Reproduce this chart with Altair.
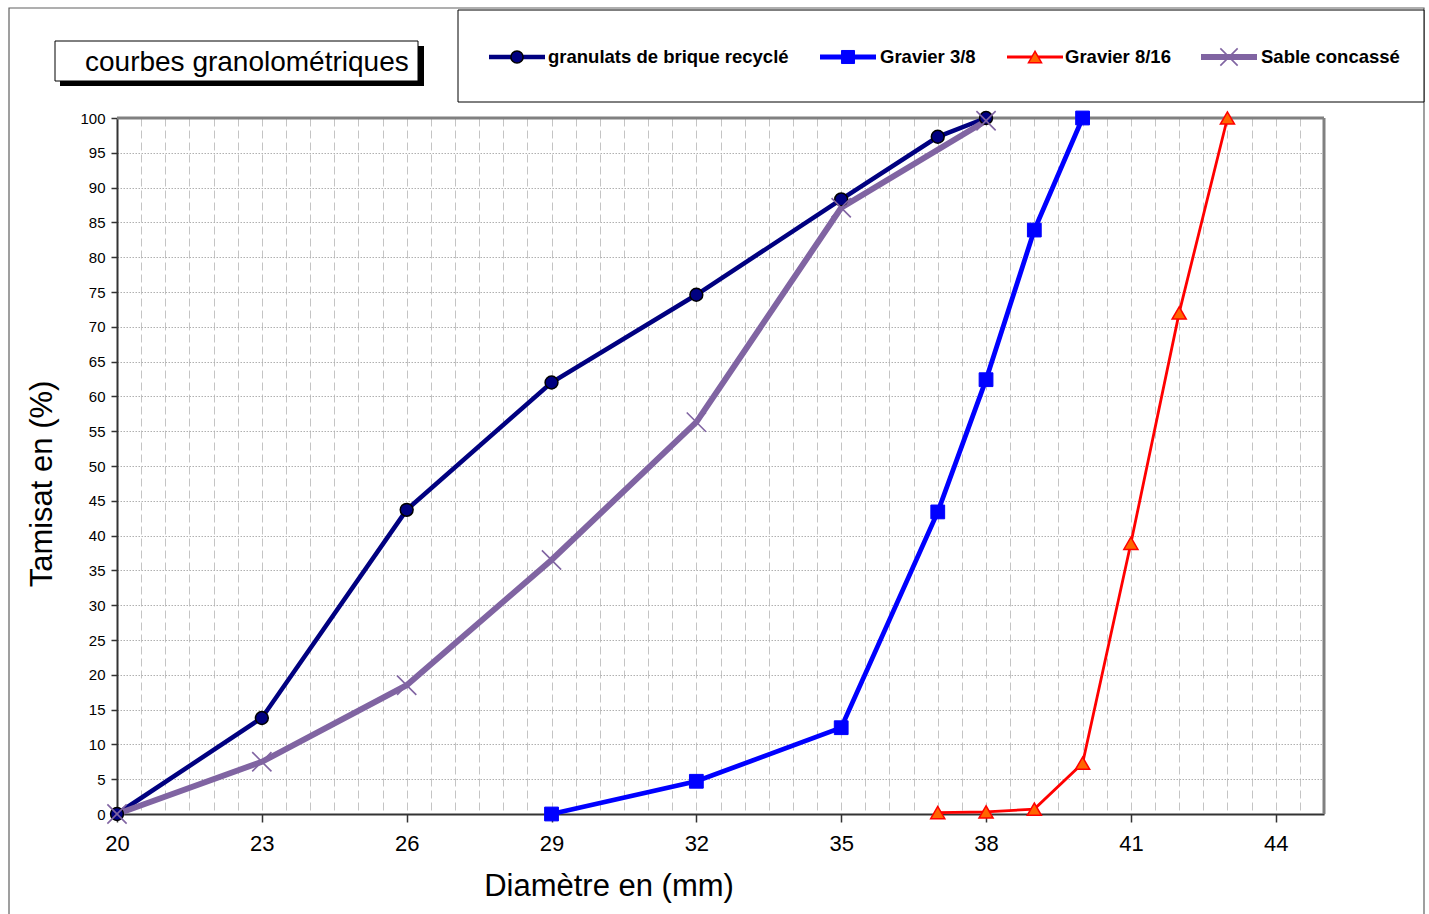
import altair as alt
import pandas as pd

FONT = "Liberation Sans"

# ---------------- data ----------------
series_names = ["granulats de brique recyclé", "Gravier 3/8", "Gravier 8/16", "Sable concassé"]

granulats_x = [20, 23, 26, 29, 32, 35, 37, 38]
granulats_y = [0, 13.8, 43.7, 62.0, 74.6, 88.3, 97.3, 100]

gravier38_x = [29, 32, 35, 37, 38, 39, 40]
gravier38_y = [0, 4.7, 12.4, 43.4, 62.4, 83.9, 100]

gravier816_x = [37, 38, 39, 40, 41, 42, 43]
gravier816_y = [0.2, 0.3, 0.7, 7.3, 38.9, 72.0, 100]

sable_x = [20, 23, 26, 29, 32, 35, 38]
sable_y = [0, 7.5, 18.5, 36.5, 56.3, 87.1, 99.6]

x_label_values = [20, 23, 26, 29, 32, 35, 38, 41, 44]
y_tick_values = list(range(0, 101, 5))

chart_title = "courbes granolométriques"
x_title = "Diamètre en (mm)"
y_title = "Tamisat en (%)"

series_x = [granulats_x, gravier38_x, gravier816_x, sable_x]
series_y = [granulats_y, gravier38_y, gravier816_y, sable_y]

frames = []
for name, xs, ys in zip(series_names, series_x, series_y):
    frames.append(pd.DataFrame({"serie": name, "d": xs, "t": ys}))
df = pd.concat(frames, ignore_index=True)

# ---------------- styles ----------------
X_PATH = "M-1,-1L1,1M-1,1L1,-1"
styles = {
    "granulats de brique recyclé": dict(line="#000080", width=4.5, shape="circle", size=165,
                                         fill="#000080", stroke="#000000", sw=1.5, filled=True,
                                         leg_size=150),
    "Gravier 3/8": dict(line="#0000FF", width=4.8, shape="square", size=190,
                        fill="#0000FF", stroke="#0000FF", sw=1, filled=True, leg_size=170),
    "Gravier 8/16": dict(line="#FF0000", width=2.8, shape="triangle-up", size=200,
                         fill="#FF6600", stroke="#FF0000", sw=1.5, filled=True, leg_size=170),
    "Sable concassé": dict(line="#8064A2", width=6, shape=X_PATH, size=370,
                           fill="#8064A2", stroke="#8064A2", sw=1.6, filled=False, leg_size=300),
}

W, H = 1207, 696
L, T = 117, 118

x_grid_values = [20 + 0.5 * i for i in range(51)]
every3 = "(datum.value - 20) % 3 == 0"

x_enc = alt.X(
    "d:Q",
    scale=alt.Scale(domain=[20, 45], nice=False, zero=False),
    title=None,
    axis=alt.Axis(
        values=x_grid_values,
        labelExpr=f"{every3} ? format(datum.value, 'd') : ''",
        labelOverlap=False,
        labelFlush=False,
        labelFont=FONT,
        labelFontSize=22,
        labelColor="#000000",
        labelPadding=11,
        tickSize=8,
        tickColor="#333333",
        tickWidth=1.5,
        tickOpacity={"condition": {"test": every3, "value": 1}, "value": 0},
        domainColor="#333333",
        domainWidth=2,
        grid=True,
        gridColor="#c4c4c4",
        gridDash=[8, 4],
        gridWidth=1,
    ),
)
y_enc = alt.Y(
    "t:Q",
    scale=alt.Scale(domain=[0, 100], nice=False),
    title=None,
    axis=alt.Axis(
        values=y_tick_values,
        format="d",
        labelOverlap=False,
        labelFont=FONT,
        labelFontSize=15,
        labelColor="#000000",
        labelPadding=6,
        tickSize=6,
        tickColor="#333333",
        tickWidth=1.5,
        domainColor="#333333",
        domainWidth=2,
        grid=True,
        gridColor="#b0b0b0",
        gridDash=[1.5, 1.5],
        gridWidth=1,
    ),
)

base = alt.Chart(df).encode(x=x_enc, y=y_enc)

one = pd.DataFrame({"k": [0]})


def px(v, origin):
    return v - origin


layers = []

# outer border of the chart
layers.append(
    alt.Chart(one).mark_rect(fill="#ffffff", fillOpacity=0, stroke="#606060", strokeWidth=1.2).encode(
        x=alt.value(px(9, L)), x2=alt.value(px(1424, L)),
        y=alt.value(px(8, T)), y2=alt.value(px(930, T)))
)

# top and right frame of plot area
layers.append(
    alt.Chart(one).mark_rule(color="#808080", strokeWidth=3).encode(
        x=alt.value(0), x2=alt.value(W), y=alt.value(0))
)
layers.append(
    alt.Chart(one).mark_rule(color="#808080", strokeWidth=3).encode(
        x=alt.value(W), y=alt.value(0), y2=alt.value(H))
)

# series lines
for name in series_names:
    s = styles[name]
    layers.append(
        base.transform_filter(alt.datum.serie == name).mark_line(
            color=s["line"], strokeWidth=s["width"], clip=False)
    )
# series markers
for name in series_names:
    s = styles[name]
    kw = dict(shape=s["shape"], size=s["size"], filled=s["filled"], opacity=1,
              stroke=s["stroke"], strokeWidth=s["sw"], clip=False)
    if s["filled"]:
        kw["fill"] = s["fill"]
    layers.append(base.transform_filter(alt.datum.serie == name).mark_point(**kw))

# title box with shadow
layers.append(
    alt.Chart(one).mark_rect(fill="#000000").encode(
        x=alt.value(px(60, L)), x2=alt.value(px(424, L)),
        y=alt.value(px(46, T)), y2=alt.value(px(86, T)))
)
layers.append(
    alt.Chart(one).mark_rect(fill="#ffffff", stroke="#000000", strokeWidth=1).encode(
        x=alt.value(px(55, L)), x2=alt.value(px(418, L)),
        y=alt.value(px(41, T)), y2=alt.value(px(81, T)))
)
layers.append(
    alt.Chart(one).mark_text(text=chart_title, font=FONT, fontSize=28, align="left",
                             baseline="alphabetic", color="#000000").encode(
        x=alt.value(px(85, L)), y=alt.value(px(71, T)))
)

# legend box
layers.append(
    alt.Chart(one).mark_rect(fill="#ffffff", stroke="#000000", strokeWidth=1).encode(
        x=alt.value(px(458, L)), x2=alt.value(px(1424, L)),
        y=alt.value(px(10, T)), y2=alt.value(px(102, T)))
)
legend_center_x = [517, 848, 1035, 1229]
legend_text_x = [548, 880, 1065, 1261]
legend_y = 57
for name, cx, tx in zip(series_names, legend_center_x, legend_text_x):
    s = styles[name]
    layers.append(
        alt.Chart(one).mark_rule(color=s["line"], strokeWidth=s["width"]).encode(
            x=alt.value(px(cx - 28, L)), x2=alt.value(px(cx + 28, L)), y=alt.value(px(legend_y, T)))
    )
    kw = dict(shape=s["shape"], size=s["leg_size"], filled=s["filled"], opacity=1,
              stroke=s["stroke"], strokeWidth=s["sw"])
    if s["filled"]:
        kw["fill"] = s["fill"]
    layers.append(
        alt.Chart(one).mark_point(**kw).encode(x=alt.value(px(cx, L)), y=alt.value(px(legend_y, T)))
    )
    layers.append(
        alt.Chart(one).mark_text(text=name, font=FONT, fontSize=18.5, fontWeight="bold",
                                 align="left", baseline="middle", color="#000000").encode(
            x=alt.value(px(tx, L)), y=alt.value(px(legend_y, T)))
    )

# axis titles
layers.append(
    alt.Chart(one).mark_text(text=x_title, font=FONT, fontSize=31, align="center",
                             baseline="middle", color="#000000").encode(
        x=alt.value(px(609, L)), y=alt.value(px(887, T)))
)
layers.append(
    alt.Chart(one).mark_text(text=y_title, font=FONT, fontSize=31, align="center",
                             baseline="middle", angle=270, color="#000000").encode(
        x=alt.value(px(43, L)), y=alt.value(px(484, T)))
)

chart = alt.layer(*layers).properties(
    width=W, height=H,
    autosize=alt.AutoSizeParams(type="none"),
    padding={"left": L, "top": T, "right": 1429 - L - W, "bottom": 914 - T - H},
    background="#ffffff",
).configure_view(stroke="transparent")

chart.save("out.html", embed_options={"renderer": "svg", "actions": False})
